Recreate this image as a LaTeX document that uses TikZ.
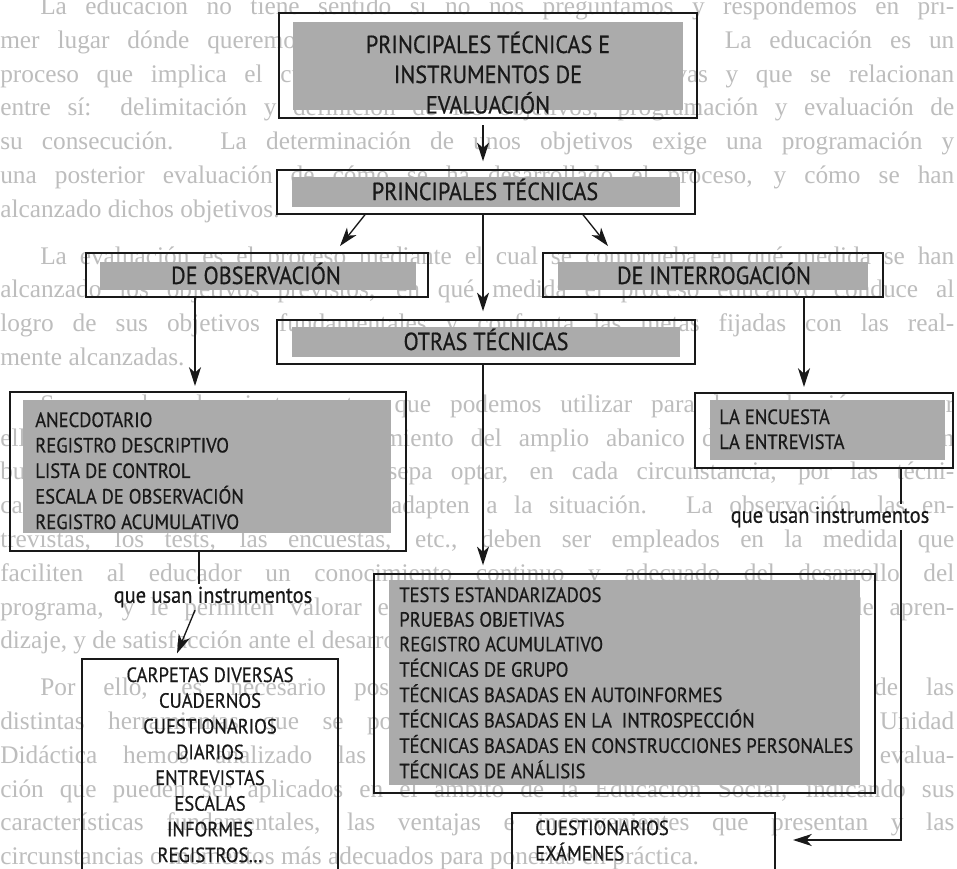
\documentclass[tikz,border=0pt]{standalone}
\usepackage{fontspec}
\usetikzlibrary{arrows.meta,fit}
\newfontfamily\diagfont[FakeStretch=0.9, FakeBold=0.6]{PT Sans}
\newfontfamily\pagefont{Liberation Serif}
\newlength\pxu
\setlength\pxu{0.75pt}
\definecolor{boxgray}{gray}{0.67}
\definecolor{inkgray}{gray}{0.74}
\definecolor{ink}{gray}{0.1}

\tikzset{
  frame/.style={draw=ink, line width=1.1pt, inner sep=0pt},
  shadebox/.style={fill=boxgray, draw=none, inner sep=0pt},
  head/.style={font=\diagfont\fontsize{18.5}{22.5}\selectfont, inner sep=0pt, text=ink},
  item/.style={font=\diagfont\fontsize{15.5}{19}\selectfont, inner sep=0pt, text=ink},
  note/.style={font=\diagfont\fontsize{17}{20}\selectfont, inner sep=2pt, text=ink},
  wire/.style={draw=ink, line width=1pt},
  link/.style={wire, -{Stealth[length=14pt,width=9pt,inset=4pt]}, shorten >=6pt},
  pageline/.style={font=\pagefont\fontsize{19}{23}\selectfont, text=inkgray, inner sep=0pt, anchor=base west},
}
\newcommand\jline[1]{\makebox[914\pxu][s]{#1}}
\newcommand\fline[1]{\makebox[954\pxu][s]{#1}}

\begin{document}
\begin{tikzpicture}[x=0.75pt, y=-0.75pt]
\useasboundingbox (0,0) rectangle (957,868);
\clip (0,0) rectangle (957,868);
\fill[white] (0,0) rectangle (957,868);

% ---- page text printed underneath the chart ----
\node[pageline] (p1)  at (40,14)  {\jline{La educación no tiene sentido si no nos preguntamos y respondemos en pri-}};
\node[pageline] (p2)  at (0,48)   {\fline{mer lugar dónde queremos llegar, qué queremos conseguir. La educación es un}};
\node[pageline] (p3)  at (0,82)   {\fline{proceso que implica el cumplimiento de unas fases sucesivas y que se relacionan}};
\node[pageline] (p4)  at (0,115)  {\fline{entre sí: delimitación y definición de los objetivos, programación y evaluación de}};
\node[pageline] (p5)  at (0,149)  {\fline{su consecución. La determinación de unos objetivos exige una programación y}};
\node[pageline] (p6)  at (0,183)  {\fline{una posterior evaluación de cómo se ha desarrollado el proceso, y cómo se han}};
\node[pageline] (p7)  at (0,217)  {alcanzado dichos objetivos.};
\node[pageline] (p8)  at (40,264) {\jline{La evaluación es el proceso mediante el cual se comprueba en qué medida se han}};
\node[pageline] (p9)  at (0,297)  {\fline{alcanzado los objetivos previstos, en qué medida el proceso educativo conduce al}};
\node[pageline] (p10) at (0,331)  {\fline{logro de sus objetivos fundamentales y confronta las metas fijadas con las real-}};
\node[pageline] (p11) at (0,365)  {mente alcanzadas.};
\node[pageline] (p12) at (40,412) {\jline{Son muchos los instrumentos que podemos utilizar para la evaluación, y por}};
\node[pageline] (p13) at (0,446)  {\fline{ello es necesario tener un conocimiento del amplio abanico de posibilidades. Un}};
\node[pageline] (p14) at (0,479)  {\fline{buen profesional será aquel que sepa optar, en cada circunstancia, por las técni-}};
\node[pageline] (p15) at (0,513)  {\fline{cas e instrumentos que mejor se adapten a la situación. La observación, las en-}};
\node[pageline] (p16) at (0,547)  {\fline{trevistas, los tests, las encuestas, etc., deben ser empleados en la medida que}};
\node[pageline] (p17) at (0,581)  {\fline{faciliten al educador un conocimiento continuo y adecuado del desarrollo del}};
\node[pageline] (p18) at (0,615)  {\fline{programa, y le permiten valorar en cada momento la calidad y el grado de apren-}};
\node[pageline] (p19) at (0,648)  {dizaje, y de satisfacción ante el desarrollo del programa.};
\node[pageline] (p20) at (40,695) {\jline{Por ello, es necesario poseer un conocimiento y un dominio de las}};
\node[pageline] (p21) at (0,729)  {\fline{distintas herramientas que se ponen a nuestra disposición. En esta Unidad}};
\node[pageline] (p22) at (0,763)  {\fline{Didáctica hemos analizado las principales técnicas e instrumentos de evalua-}};
\node[pageline] (p23) at (0,797)  {\fline{ción que pueden ser aplicados en el ámbito de la Educación Social, indicando sus}};
\node[pageline] (p24) at (0,830)  {\fline{características fundamentales, las ventajas e inconvenientes que presentan y las}};
\node[pageline] (p25) at (0,864)  {circunstancias o momentos más adecuados para ponerlas en práctica.};

% ---- corner points of the boxes ----
\coordinate (a1) at (279,13);  \coordinate (b1) at (697,118);
\coordinate (a1s) at (293,22); \coordinate (b1s) at (683,110);
\coordinate (a2) at (277,170); \coordinate (b2) at (695,214);
\coordinate (a2s) at (292,177);\coordinate (b2s) at (680,207);
\coordinate (a3) at (86,253);  \coordinate (b3) at (428,297);
\coordinate (a3s) at (100,262);\coordinate (b3s) at (416,290);
\coordinate (a4) at (543,253); \coordinate (b4) at (883,297);
\coordinate (a4s) at (558,262);\coordinate (b4s) at (868,290);
\coordinate (a5) at (277,320); \coordinate (b5) at (695,364);
\coordinate (a5s) at (292,327);\coordinate (b5s) at (680,357);
\coordinate (a6) at (10,392);  \coordinate (b6) at (406,551);
\coordinate (a6s) at (23,400); \coordinate (b6s) at (391,533);
\coordinate (a7) at (695,393); \coordinate (b7) at (953,468);
\coordinate (a7s) at (710,400);\coordinate (b7s) at (945,460);
\coordinate (a8) at (374,574); \coordinate (b8) at (875,793);
\coordinate (a8s) at (389,580);\coordinate (b8s) at (860,785);
\coordinate (a9) at (82,659);  \coordinate (b9) at (338,900);
\coordinate (a10) at (512,813);\coordinate (b10) at (775,900);

% ---- grey panels ----
\node[shadebox, fit=(a1s)(b1s)] (topfill) {};
\node[shadebox, fit=(a2s)(b2s)] (ptfill) {};
\node[shadebox, fit=(a3s)(b3s)] (obsfill) {};
\node[shadebox, fit=(a4s)(b4s)] (intfill) {};
\node[shadebox, fit=(a5s)(b5s)] (otrasfill) {};
\node[shadebox, fit=(a6s)(b6s)] (obslistfill) {};
\node[shadebox, fit=(a7s)(b7s)] (intlistfill) {};
\node[shadebox, fit=(a8s)(b8s)] (otraslistfill) {};

% ---- outer frames ----
\node[frame, fit=(a1)(b1)] (topbox) {};
\node[frame, fit=(a2)(b2)] (ptbox) {};
\node[frame, fit=(a3)(b3)] (obsbox) {};
\node[frame, fit=(a4)(b4)] (intbox) {};
\node[frame, fit=(a5)(b5)] (otrasbox) {};
\node[frame, fit=(a6)(b6)] (obslist) {};
\node[frame, fit=(a7)(b7)] (intlist) {};
\node[frame, fit=(a8)(b8)] (otraslist) {};
\node[frame, fit=(a9)(b9)] (instrleft) {};
\node[frame, fit=(a10)(b10)] (instrright) {};

% ---- headings ----
\node[head, anchor=base] (toptext) at (488,53)
  {\begin{tabular}[t]{@{}c@{}}PRINCIPALES TÉCNICAS E\\INSTRUMENTOS DE\\EVALUACIÓN\end{tabular}};
\node[head, anchor=base] (pttext) at (485,200) {PRINCIPALES TÉCNICAS};
\node[head, anchor=base] (obstext) at (256,284) {DE OBSERVACIÓN};
\node[head, anchor=base] (inttext) at (714,284) {DE INTERROGACIÓN};
\node[head, anchor=base] (otrastext) at (486,350) {OTRAS TÉCNICAS};

% ---- lists ----
\node[item, anchor=base west, font=\diagfont\fontsize{15.5}{19.1}\selectfont] (obsitems) at (35,427)
  {\begin{tabular}[t]{@{}l@{}}ANECDOTARIO\\REGISTRO DESCRIPTIVO\\LISTA DE CONTROL\\ESCALA DE OBSERVACIÓN\\REGISTRO ACUMULATIVO\end{tabular}};
\node[item, anchor=base west, font=\diagfont\fontsize{15.5}{18.75}\selectfont] (intitems) at (719,424)
  {\begin{tabular}[t]{@{}l@{}}LA ENCUESTA\\LA ENTREVISTA\end{tabular}};
\node[item, anchor=base west, font=\diagfont\fontsize{15.5}{18.5}\selectfont] (otrasitems) at (399,602)
  {\begin{tabular}[t]{@{}l@{}}TESTS ESTANDARIZADOS\\PRUEBAS OBJETIVAS\\REGISTRO ACUMULATIVO\\TÉCNICAS DE GRUPO\\TÉCNICAS BASADAS EN AUTOINFORMES\\TÉCNICAS BASADAS EN LA \ INTROSPECCIÓN\\TÉCNICAS BASADAS EN CONSTRUCCIONES PERSONALES\\TÉCNICAS DE ANÁLISIS\end{tabular}};
\node[item, anchor=base, font=\diagfont\fontsize{15.5}{19.3}\selectfont] (leftitems) at (210,682)
  {\begin{tabular}[t]{@{}c@{}}CARPETAS DIVERSAS\\CUADERNOS\\CUESTIONARIOS\\DIARIOS\\ENTREVISTAS\\ESCALAS\\INFORMES\\REGISTROS\dots\end{tabular}};
\node[item, anchor=base west, font=\diagfont\fontsize{15.5}{18.75}\selectfont] (rightitems) at (535,835)
  {\begin{tabular}[t]{@{}l@{}}CUESTIONARIOS\\EXÁMENES\end{tabular}};

% ---- labels on the connectors ----
\node[note] (leftnote) at (213,597) {que usan instrumentos};
\node[note] (rightnote) at (830,517) {que usan instrumentos};

% ---- connectors ----
\coordinate (xmid) at (483,0);
\coordinate (xl1) at (365,0);  \coordinate (xl2) at (335,0);
\coordinate (xr1) at (583,0);  \coordinate (xr2) at (613,0);
\coordinate (xobs) at (195,0); \coordinate (xint) at (804,0);
\coordinate (xll) at (199,0);  \coordinate (xrl) at (901,0);
\coordinate (la1) at (195,0);  \coordinate (la2) at (175,0);
\coordinate (turn) at (901,840);

\draw[link, shorten <=5pt] (topbox.south -| xmid) -- (ptbox.north -| xmid);
\draw[link] (ptbox.south -| xl1) -- (obsbox.north -| xl2);
\draw[link] (ptbox.south -| xr1) -- (intbox.north -| xr2);
\draw[link] (ptbox.south -| xmid) -- (otrasbox.north -| xmid);
\draw[link, shorten >=4pt] (obsbox.south -| xobs) -- (obslist.north -| xobs);
\draw[link, shorten >=4pt] (intbox.south -| xint) -- (intlist.north -| xint);
\draw[link] (otrasbox.south -| xmid) -- (otraslist.north -| xmid);

\draw[wire] (obslist.south -| xll) -- (leftnote.north -| xll);
\draw[link, shorten >=4pt] (leftnote.south -| la1) -- (instrleft.north -| la2);

\draw[wire] (intlist.south -| xrl) -- (rightnote.north -| xrl);
\draw[link, shorten >=13pt] (rightnote.south -| xrl) -- (turn) -- (instrright.east |- turn);
\end{tikzpicture}
\end{document}
